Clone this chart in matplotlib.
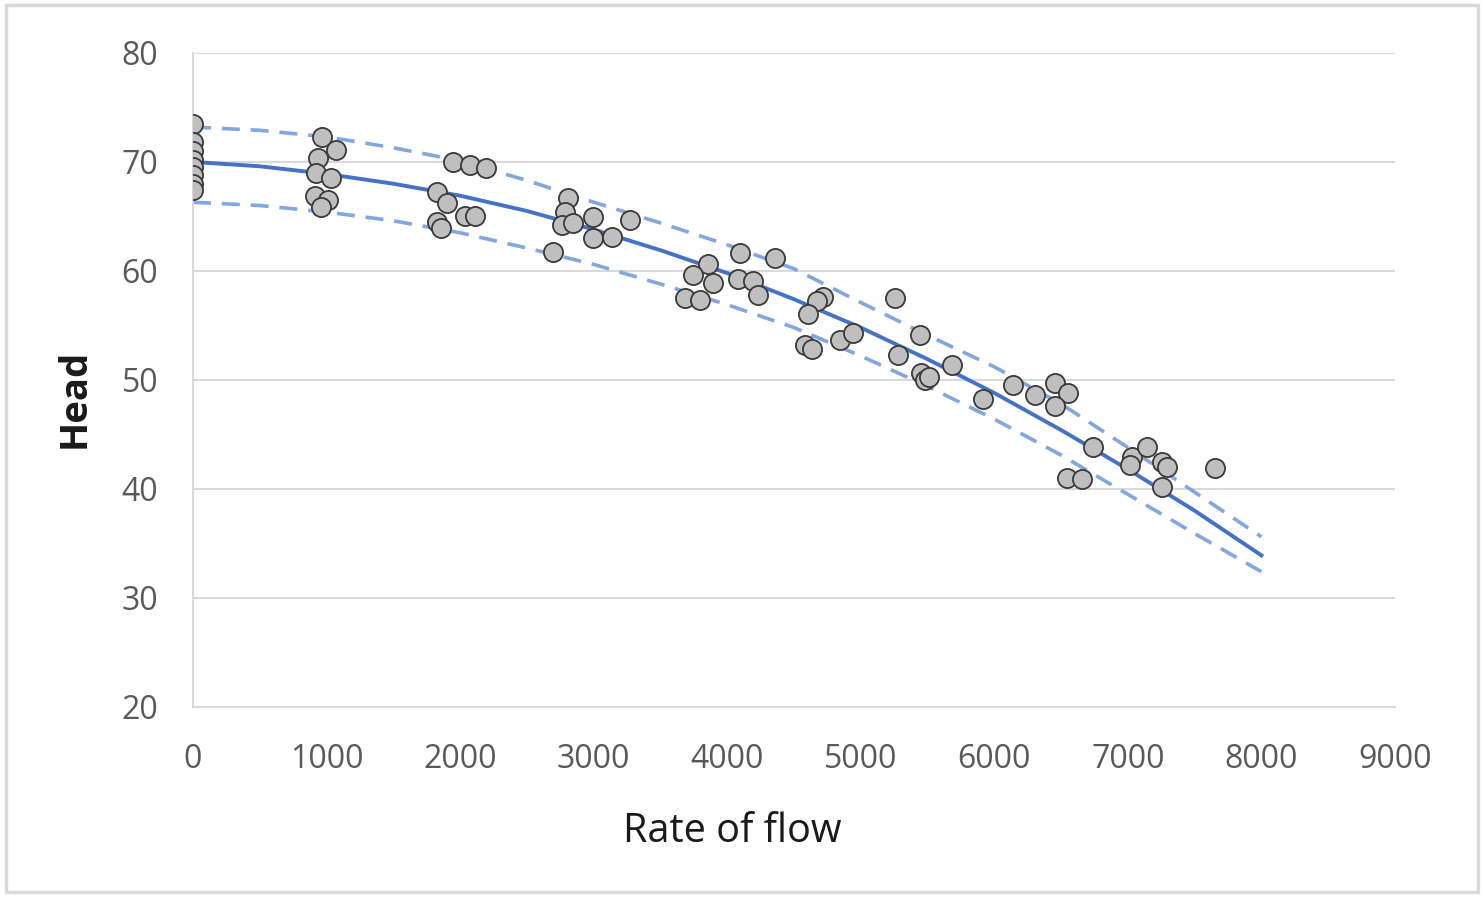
import numpy as np
import matplotlib.pyplot as plt
from matplotlib.patches import Rectangle

# measured points (rate of flow, head)
flow = [0, 0, 0, 0, 0, 0, 0, 0,
        966, 1070, 935, 920, 1033, 913, 1010, 958,
        1947, 2074, 2194, 1827, 1902, 2040, 2110, 1830, 1860,
        2808, 2785, 2763, 2845, 2995, 2995, 3137, 3272, 2695,
        4095, 4358, 3856, 3744, 3893, 4081, 4193, 4230, 3684, 3796, 4717, 4672, 4605,
        5256, 5443, 4582, 4635, 4844, 4942, 5278, 5683, 5450, 5480, 5510,
        5915, 6140, 6304, 6454, 6551, 6454, 6739, 6544, 6656, 7030, 7015, 7143,
        7255, 7293, 7255, 7652]
head = [73.5, 71.8, 71.0, 70.2, 69.5, 68.8, 68.0, 67.4,
        72.3, 71.1, 70.4, 69.0, 68.5, 66.9, 66.5, 65.9,
        70.0, 69.7, 69.4, 67.2, 66.2, 65.0, 65.0, 64.5, 63.9,
        66.7, 65.4, 64.2, 64.4, 64.9, 63.0, 63.1, 64.7, 61.7,
        61.6, 61.2, 60.6, 59.6, 58.9, 59.3, 59.1, 57.8, 57.5, 57.3, 57.6, 57.2, 56.0,
        57.5, 54.1, 53.2, 52.8, 53.7, 54.3, 52.3, 51.4, 50.6, 50.0, 50.3,
        48.2, 49.5, 48.6, 49.7, 48.8, 47.6, 43.8, 41.0, 40.9, 42.9, 42.2, 43.8,
        42.5, 42.0, 40.2, 41.9]

# fitted curve and band
curve_x = [0, 500, 1000, 1500, 2000, 2500, 3000, 3500, 4000,
           4500, 5000, 5500, 6000, 6500, 7000, 7500, 8000]
fit = [70.0, 69.6, 68.9, 68.0, 66.9, 65.5, 63.8, 61.9, 59.8,
       57.4, 54.8, 51.9, 48.8, 45.4, 41.8, 38.0, 33.9]
upper = [73.2, 72.9, 72.3, 71.3, 70.1, 68.3, 66.3, 64.4, 62.4,
         60.2, 57.1, 54.1, 51.2, 47.8, 43.8, 39.7, 35.6]
lower = [66.3, 66.0, 65.4, 64.6, 63.5, 62.1, 60.6, 58.8, 56.9,
         54.8, 52.2, 49.4, 46.4, 43.1, 39.5, 35.9, 32.4]

x_ticks = list(range(0, 9001, 1000))
y_ticks = list(range(20, 81, 10))

fig = plt.figure(figsize=(14.84, 8.97), dpi=100)
ax = fig.add_axes([0.130, 0.212, 0.810, 0.729])

fig.patches.append(Rectangle((0.004, 0.006), 0.992, 0.988, transform=fig.transFigure,
                             fill=False, edgecolor='#d9d9d9', linewidth=2.5))

ax.plot(curve_x, upper, color='#82a6e0', linestyle=(0, (5, 3)), linewidth=2.6, zorder=2)
ax.plot(curve_x, lower, color='#82a6e0', linestyle=(0, (5, 3)), linewidth=2.6, zorder=2)
ax.plot(curve_x, fit, color='#4472c4', linewidth=2.8, zorder=3)
ax.scatter(flow, head, s=190, facecolor='#bfbfbf', edgecolor='#3a3a3a', linewidth=1.3, zorder=4)

ax.set_xlim(0, 9000)
ax.set_ylim(20, 80)
ax.set_xticks(x_ticks)
ax.set_yticks(y_ticks)
ax.grid(axis='y', color='#d9d9d9', linewidth=1.5)
ax.set_axisbelow(True)
for s in ['top', 'right']:
    ax.spines[s].set_visible(False)
for s in ['left', 'bottom']:
    ax.spines[s].set_color('#d9d9d9')
    ax.spines[s].set_linewidth(1.5)
ax.tick_params(length=0, labelsize=23, labelcolor='#595959')
ax.tick_params(axis='x', pad=26)
ax.tick_params(axis='y', pad=25)
for lab in ax.get_xticklabels() + ax.get_yticklabels():
    lab.set_family('Open Sans')

ax.set_xlabel('Rate of flow', fontsize=28.5, family='Open Sans', color='#1a1a1a')
ax.set_ylabel('Head', fontsize=27.5, family='Open Sans', fontweight='bold', color='#1a1a1a')
ax.xaxis.set_label_coords(0.449, -0.160)
ax.yaxis.set_label_coords(-0.083, 0.472)

fig.savefig('out.png', dpi=100)
